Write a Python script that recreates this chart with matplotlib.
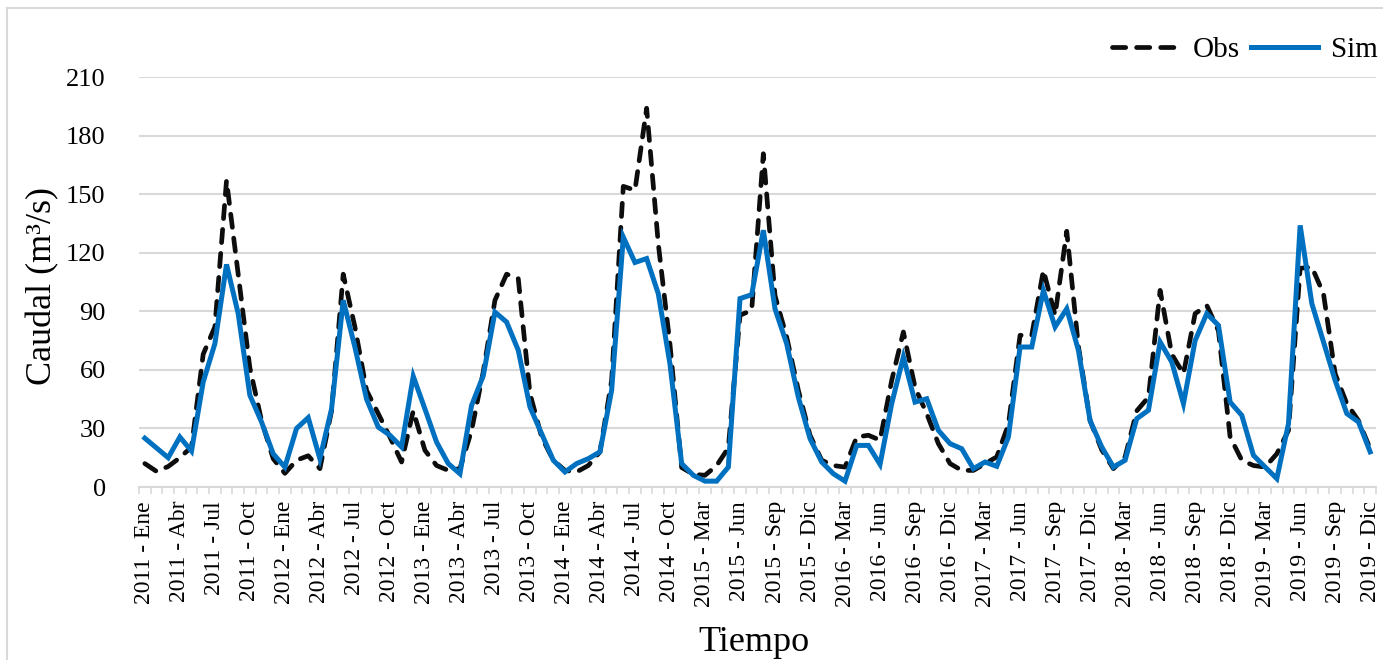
import matplotlib
matplotlib.use('Agg')
import matplotlib.pyplot as plt
from matplotlib.lines import Line2D
import numpy as np

# Caudal mensual observado y simulado (m3/s), 2011-2019 (sin Nov/Dic 2014)
obs = [12, 8, 10.5, 15, 20.5, 68, 82, 157, 109, 61, 34, 14.5,
       7, 13.7, 16, 9.4, 39, 109, 82, 49.5, 37.6, 25.6, 12.8, 39,
       18.8, 11, 8.5, 9.4, 29, 59, 95.6, 109, 106.7, 48, 25.6, 13.7,
       8.5, 7.7, 11, 18, 54.6, 154, 152, 194, 124.5, 73,
       10, 6.5, 6, 11, 20, 88, 90.5, 170.7, 98, 76.8, 49.5, 26.5,
       13.7, 11, 10.2, 25.6, 26.5, 24, 54.6, 79.4, 51, 37.6, 22.2, 12,
       8.5, 8.5, 12, 15.4, 32, 77.7, 77.7, 111, 88, 131, 72, 34,
       19, 9.4, 15.4, 39, 46, 100.7, 68, 58, 88.8, 93, 80, 25.6,
       13.7, 11, 10.2, 17, 29, 112, 112.7, 99, 58, 42.7, 34, 19.6]

sim = [25, 20, 15, 25.6, 18.4, 53.8, 73.4, 114, 88.8, 47, 33.3, 17,
       10.2, 30, 35.5, 14.5, 40, 95.6, 71.7, 45, 30.7, 26.5, 20.5, 56.7,
       40, 23, 12, 6.8, 41.8, 57, 89.6, 84.5, 70, 41, 27.3, 13.7,
       7.7, 12, 14.5, 18, 49.5, 128, 115, 117, 99, 63,
       12, 6, 3, 3, 10.2, 96.5, 98.5, 131.5, 91.3, 73.4, 46, 24.8,
       12.8, 6.8, 3, 21.3, 21.3, 11.6, 42.7, 66.6, 43.5, 45.2, 29, 22.2,
       19.6, 9.4, 12.8, 10.6, 25.6, 71.7, 71.7, 100.7, 82, 91.3, 70, 34,
       20.5, 10.2, 13.7, 35, 39.3, 74.3, 64, 42.7, 75, 88.8, 82.8, 43.5,
       36.7, 16.2, 10.2, 4.3, 32.4, 134, 94, 74.3, 54.6, 37.6, 33.3, 18]

tick_labels = ['2011 - Ene', '2011 - Abr', '2011 - Jul', '2011 - Oct',
               '2012 - Ene', '2012 - Abr', '2012 - Jul', '2012 - Oct',
               '2013 - Ene', '2013 - Abr', '2013 - Jul', '2013 - Oct',
               '2014 - Ene', '2014 - Abr', '2014 - Jul', '2014 - Oct',
               '2015 - Mar', '2015 - Jun', '2015 - Sep', '2015 - Dic',
               '2016 - Mar', '2016 - Jun', '2016 - Sep', '2016 - Dic',
               '2017 - Mar', '2017 - Jun', '2017 - Sep', '2017 - Dic',
               '2018 - Mar', '2018 - Jun', '2018 - Sep', '2018 - Dic',
               '2019 - Mar', '2019 - Jun', '2019 - Sep', '2019 - Dic']

y_ticks = [0, 30, 60, 90, 120, 150, 180, 210]

SERIF = 'Liberation Serif'
GRID = '#d9d9d9'

x = np.arange(len(obs))

fig = plt.figure(figsize=(13.83, 6.6), dpi=100)
ax = fig.add_axes([139 / 1383, 1 - 487 / 660, 1237 / 1383, 410 / 660])

ax.plot(x, obs, color='#0d0d0d', lw=3.4, linestyle=(0, (2.8, 2.3)),
        dash_capstyle='round', label='Obs', zorder=3)
ax.plot(x, sim, color='#0070c0', lw=3.6, solid_joinstyle='miter', label='Sim', zorder=4)

ax.set_xlim(-0.5, len(obs) - 0.5)
ax.set_ylim(0, 210)
ax.set_yticks(y_ticks)
ax.set_xticks(x[::3])
ax.set_xticklabels(tick_labels, rotation=90, fontfamily=SERIF, fontsize=17)
ax.set_xticks(np.arange(-0.5, len(obs), 1), minor=True)
ax.tick_params(axis='x', which='major', length=0, pad=10)
ax.tick_params(axis='x', which='minor', length=5, width=1.2, color=GRID)
ax.tick_params(axis='y', length=0, pad=24)
for lab in ax.get_yticklabels():
    lab.set_fontfamily(SERIF)
    lab.set_fontsize(19)

ax.grid(axis='y', color=GRID, lw=1.5, zorder=0)
ax.set_axisbelow(True)
for side in ['top', 'right', 'left']:
    ax.spines[side].set_visible(False)
ax.spines['bottom'].set_color(GRID)
ax.spines['bottom'].set_linewidth(1.5)

ax.set_ylabel('Caudal (m³/s)', fontfamily=SERIF, fontsize=26)
ax.yaxis.set_label_coords(-0.078, 0.49)
ax.yaxis.label.set_va('center')
ax.set_xlabel('Tiempo', fontfamily=SERIF, fontsize=26)
ax.xaxis.set_label_coords(0.497, -0.38)
ax.xaxis.label.set_va('center')

fig.legend(loc='center right', bbox_to_anchor=(1378 / 1383, 1 - 50 / 660), ncol=2,
           frameon=False, prop={'family': SERIF, 'size': 21}, handlelength=2.3,
           handletextpad=0.45, columnspacing=0.4, borderpad=0, borderaxespad=0)

# marco del area del grafico
fig.add_artist(Line2D([7 / 1383, 7 / 1383], [0, 1 - 8 / 660], color=GRID, lw=1.5))
fig.add_artist(Line2D([7 / 1383, 1], [1 - 8 / 660, 1 - 8 / 660], color=GRID, lw=1.5))

fig.savefig('out.png', dpi=100)
